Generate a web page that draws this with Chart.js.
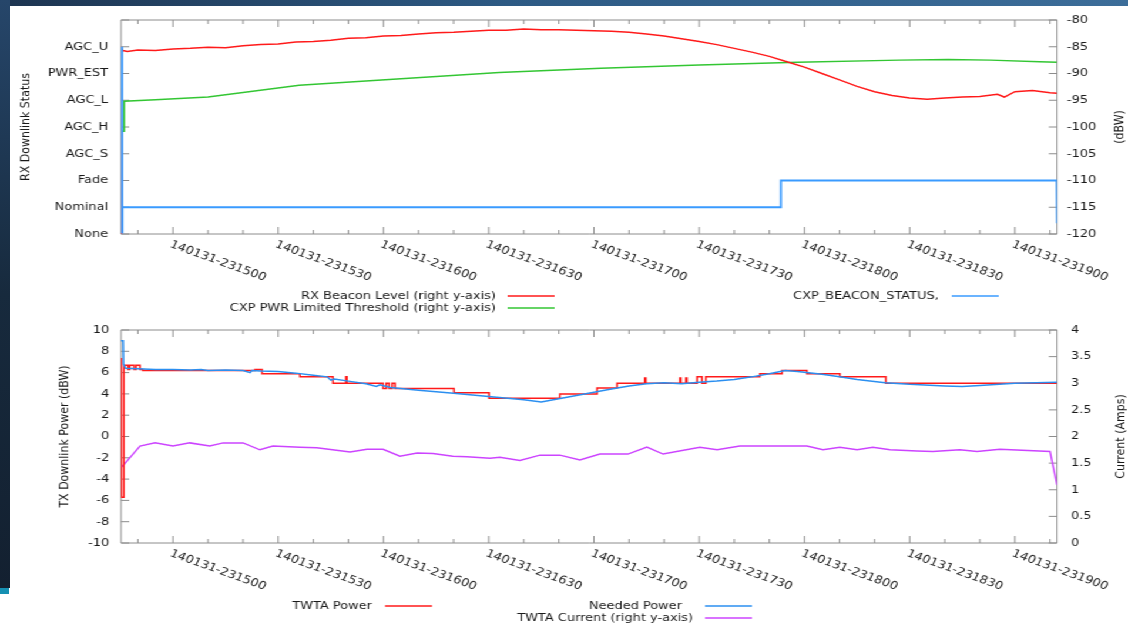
<!DOCTYPE html>
<html>
<head>
<meta charset="utf-8">
<script src="https://cdn.jsdelivr.net/npm/chart.js@4.4.1/dist/chart.umd.min.js"></script>
<style>
  html, body { margin: 0; padding: 0; background: #fff; width: 1128px; height: 627px; overflow: hidden; }
  #stage { position: absolute; left: 0; top: 0; width: 960px; height: 627px; transform: scaleX(1.175); transform-origin: 0 0; }
  #stage canvas { position: absolute; left: 0; }
  #topbar { position: absolute; left: 0; top: 0; width: 1128px; height: 6px; background: linear-gradient(90deg, #1d3450, #2d5a84 45%, #3c6d99); }
  #sidebar { position: absolute; left: 0; top: 0; width: 10px; height: 588px; background: linear-gradient(180deg, #26466a, #172a3d 50%, #132030); }
  #sidestripe { position: absolute; left: 0; top: 588px; width: 9px; height: 6px; background: #1690b2; }
</style>
</head>
<body>
<div id="stage">
  <canvas id="rx" width="960" height="320" style="top:0"></canvas>
  <canvas id="tx" width="960" height="331" style="top:296px"></canvas>
</div>
<div id="topbar"></div>
<div id="sidebar"></div>
<div id="sidestripe"></div>
<script>
// time axis: seconds after 140131-231500
const xMin = -14.8, xMax = 252;
const xTickSeconds = [0, 30, 60, 90, 120, 150, 180, 210, 240];
const xTickLabels = ['140131-231500', '140131-231530', '140131-231600', '140131-231630', '140131-231700',
                     '140131-231730', '140131-231800', '140131-231830', '140131-231900'];
const statusNames = ['None', 'Nominal', 'Fade', 'AGC_S', 'AGC_H', 'AGC_L', 'PWR_EST', 'AGC_U'];

// --- RX chart ---
const beaconTime = [-14.8, -14.7, -14.3, -13, -10, -5, 0, 5, 10, 15, 20, 25, 30, 35, 40, 45, 50, 55, 60, 65, 70, 75,
  80, 85, 90, 95, 100, 105, 110, 115, 120, 125, 130, 135, 140, 145, 150, 155, 160, 165, 170, 175, 180, 185, 190,
  195, 200, 205, 210, 215, 220, 225, 230, 235, 237, 240, 245, 250, 252];
const beaconLevel = [-121, -85.3, -85.7, -85.9, -85.6, -85.7, -85.4, -85.3, -85.1, -85.2, -84.8, -84.6, -84.5, -84.1,
  -84.0, -83.8, -83.4, -83.3, -83.0, -82.9, -82.6, -82.4, -82.3, -82.1, -81.9, -81.9, -81.7, -81.8, -81.8, -81.9,
  -82.0, -82.1, -82.3, -82.6, -83.0, -83.5, -84.0, -84.6, -85.3, -86.0, -86.8, -87.8, -88.8, -90.0, -91.2, -92.4,
  -93.4, -94.1, -94.6, -94.8, -94.6, -94.4, -94.3, -93.9, -94.4, -93.4, -93.2, -93.6, -93.7];
const thresholdTime = [-14.8, -14.0, -13.9, -5, 10, 36, 65, 93, 122, 150, 178, 207, 221, 233, 247, 252];
const thresholdLevel = [-100.8, -100.8, -95.2, -94.9, -94.4, -92.2, -91.0, -89.8, -89.0, -88.4, -87.9, -87.5, -87.4,
  -87.5, -87.8, -87.9];
const statusTime = [-14.5, -14.45, -14.4, 173.3, 173.3, 251.9, 252];
const statusValue = [7, 0.05, 1, 1, 2, 2, 0.4];

// --- TX chart ---
const twtaPowerTime = [-14.8, -14.72, -14.0, -12.8, -12.3, -11.1, -10.5, -9.4, -8.6, 23.4, 25.4, 36.2, 45.6, 49.3,
  49.6, 59.9, 60.8, 61.6, 62.5, 63.3, 80.1, 90.1, 110.3, 120.9, 126.6, 134.5, 134.8, 144.5, 144.8, 146.2, 146.5,
  149.4, 150.8, 151.9, 153.1, 167.3, 173.6, 180.7, 190.1, 203.2, 252];
const twtaPower = [7.3, -5.7, 6.7, 6.3, 6.7, 6.3, 6.7, 6.3, 6.2, 6.3, 5.9, 5.6, 5.0, 5.6, 5.0, 4.5, 5.0, 4.5, 5.0,
  4.5, 4.1, 3.6, 4.0, 4.55, 5.0, 5.5, 5.0, 5.5, 5.0, 5.5, 5.0, 5.6, 5.0, 5.6, 5.6, 5.9, 6.2, 5.9, 5.6, 5.0, 5.0];
const neededTime = [-14.8, -14.2, -14.1, -13.5, -10, -5, 0, 5, 8, 10, 15, 20, 22, 22.5, 25, 30, 35, 40, 44, 45, 46,
  50, 55, 58, 59, 62, 70, 80, 90, 100, 105, 110, 115, 120, 125, 130, 135, 140, 145, 150, 155, 160, 165, 170, 174.5,
  178, 185, 190, 195, 203, 210, 220, 225, 230, 240, 252];
const neededPower = [9.0, 9.0, 6.8, 6.4, 6.35, 6.3, 6.3, 6.25, 6.3, 6.2, 6.25, 6.2, 6.0, 6.2, 6.15, 6.1, 5.95, 5.75,
  5.6, 5.3, 5.4, 5.2, 4.95, 4.7, 4.85, 4.6, 4.35, 4.05, 3.75, 3.45, 3.25, 3.55, 3.85, 4.15, 4.45, 4.75, 4.95, 5.05,
  4.95, 5.1, 5.2, 5.35, 5.6, 5.9, 6.2, 6.1, 5.85, 5.6, 5.35, 5.05, 4.9, 4.75, 4.7, 4.8, 5.0, 5.1];
const currentTime = [-14.8, -9.4, -5.1, 0, 4.8, 10.5, 14.3, 20, 24.8, 28.5, 36.2, 41, 50.5, 55.3, 59.9, 64.7, 69.6,
  74.1, 79.8, 83.8, 90.4, 93.2, 98.9, 104.6, 110.3, 116, 121.7, 129.7, 135.1, 139.7, 150.2, 155.1, 161.6, 180.7,
  185.3, 190.1, 195, 199.5, 204.4, 212.1, 216.6, 224.3, 229.2, 235.7, 250, 252];
const twtaCurrent = [1.41, 1.82, 1.88, 1.82, 1.88, 1.82, 1.88, 1.88, 1.75, 1.82, 1.80, 1.79, 1.71, 1.76, 1.76, 1.63,
  1.69, 1.68, 1.63, 1.62, 1.59, 1.61, 1.55, 1.65, 1.65, 1.56, 1.67, 1.67, 1.8, 1.67, 1.8, 1.75, 1.82, 1.82, 1.75,
  1.8, 1.75, 1.8, 1.75, 1.73, 1.72, 1.75, 1.72, 1.76, 1.72, 1.09];

const pts = (ts, vs) => ts.map((t, i) => ({ x: t, y: vs[i] }));

Chart.defaults.font.family = '"DejaVu Sans", sans-serif';
Chart.defaults.font.size = 11;
Chart.defaults.color = '#1a1a1a';

// gnuplot-like frame: inward ticks, slanted time labels, rotated titles, key below the plot
function gnuplotFrame(cfg) {
  return {
    id: 'gnuplotFrame',
    beforeDatasetsDraw(chart) {
      const { ctx, chartArea: a, scales } = chart;
      const x = scales.x;
      ctx.save();
      ctx.strokeStyle = '#8c8c8c';
      ctx.lineWidth = 1;
      ctx.beginPath();
      for (let t = -10; t <= 250; t += 10) {
        const px = x.getPixelForValue(t);
        const len = t % 30 === 0 ? 7 : 4;
        ctx.moveTo(px, a.bottom); ctx.lineTo(px, a.bottom - len);
        ctx.moveTo(px, a.top); ctx.lineTo(px, a.top + len);
      }
      scales.y.ticks.forEach(tk => {
        const py = scales.y.getPixelForValue(tk.value);
        ctx.moveTo(a.left, py); ctx.lineTo(a.left + 7, py);
      });
      scales.y2.ticks.forEach(tk => {
        const py = scales.y2.getPixelForValue(tk.value);
        ctx.moveTo(a.right, py); ctx.lineTo(a.right - 7, py);
      });
      ctx.rect(a.left, a.top, a.right - a.left, a.bottom - a.top);
      ctx.stroke();
      ctx.restore();
    },
    afterDraw(chart) {
      const { ctx, chartArea: a, scales } = chart;
      const x = scales.x;
      ctx.save();
      ctx.fillStyle = '#1a1a1a';
      ctx.font = '11px "DejaVu Sans"';
      ctx.textAlign = 'left';
      ctx.textBaseline = 'top';
      xTickSeconds.forEach((t, i) => {
        ctx.save();
        ctx.translate(x.getPixelForValue(t), a.bottom + 5);
        ctx.rotate(23 * Math.PI / 180);
        ctx.fillText(xTickLabels[i], 0, 0);
        ctx.restore();
      });

      const midY = (a.top + a.bottom) / 2;
      [[cfg.leftTitle, cfg.leftTitleX], [cfg.rightTitle, cfg.rightTitleX]].forEach(([s, tx]) => {
        ctx.save();
        ctx.translate(tx, midY);
        ctx.rotate(-Math.PI / 2);
        ctx.textAlign = 'center';
        ctx.textBaseline = 'middle';
        ctx.fillText(s, 0, 0);
        ctx.restore();
      });

      chart.data.datasets.forEach((ds, i) => {
        const k = cfg.keys[i];
        ctx.textAlign = 'right';
        ctx.textBaseline = 'middle';
        ctx.fillStyle = '#1a1a1a';
        ctx.fillText(ds.label, k.x, k.y);
        ctx.strokeStyle = ds.borderColor;
        ctx.lineWidth = 1.5;
        ctx.beginPath();
        ctx.moveTo(k.x1, k.y); ctx.lineTo(k.x2, k.y);
        ctx.stroke();
      });
      ctx.restore();
    }
  };
}

const lineStyle = { pointRadius: 0, borderWidth: 1.5, tension: 0, fill: false };

new Chart(document.getElementById('rx'), {
  type: 'line',
  data: {
    datasets: [
      { ...lineStyle, label: 'RX Beacon Level (right y-axis)', data: pts(beaconTime, beaconLevel), yAxisID: 'y2', borderColor: '#ff1a1a', order: 1 },
      { ...lineStyle, label: 'CXP PWR Limited Threshold (right y-axis)', data: pts(thresholdTime, thresholdLevel), yAxisID: 'y2', borderColor: '#33c633', order: 2 },
      { ...lineStyle, label: 'CXP_BEACON_STATUS,', data: pts(statusTime, statusValue), yAxisID: 'y', borderColor: '#3a9bff', borderWidth: 1.8, order: 0 }
    ]
  },
  options: {
    responsive: false,
    animation: false,
    layout: { padding: { top: 20, bottom: 86, left: 0, right: 0 } },
    plugins: { legend: { display: false }, tooltip: { enabled: false } },
    scales: {
      x: { type: 'linear', min: xMin, max: xMax, display: false },
      y: {
        position: 'left', min: 0, max: 8,
        grid: { display: false, drawTicks: false }, border: { display: false },
        ticks: { stepSize: 1, padding: 11, callback: v => statusNames[v] ?? '' },
        afterFit: s => { s.width = 103; }
      },
      y2: {
        position: 'right', min: -120, max: -80,
        grid: { display: false, drawTicks: false }, border: { display: false },
        ticks: { stepSize: 5, padding: 8.5, callback: v => String(v) },
        afterFit: s => { s.width = 60.4; }
      }
    }
  },
  plugins: [gnuplotFrame({
    leftTitle: 'RX Downlink Status', leftTitleX: 22,
    rightTitle: '(dBW)', rightTitleX: 953,
    keys: [
      { x: 422, y: 296, x1: 432, x2: 472 },
      { x: 422, y: 308, x1: 432, x2: 472 },
      { x: 799, y: 296, x1: 810, x2: 850 }
    ]
  })]
});

new Chart(document.getElementById('tx'), {
  type: 'line',
  data: {
    datasets: [
      { ...lineStyle, label: 'TWTA Power', data: pts(twtaPowerTime, twtaPower), yAxisID: 'y', borderColor: '#ff1a1a', stepped: 'before', order: 1 },
      { ...lineStyle, label: 'Needed Power', data: pts(neededTime, neededPower), yAxisID: 'y', borderColor: '#2b8ff0', order: 0 },
      { ...lineStyle, label: 'TWTA Current (right y-axis)', data: pts(currentTime, twtaCurrent), yAxisID: 'y2', borderColor: '#cc44ff', order: 2 }
    ]
  },
  options: {
    responsive: false,
    animation: false,
    layout: { padding: { top: 34, bottom: 84, left: 0, right: 0 } },
    plugins: { legend: { display: false }, tooltip: { enabled: false } },
    scales: {
      x: { type: 'linear', min: xMin, max: xMax, display: false },
      y: {
        position: 'left', min: -10, max: 10,
        grid: { display: false, drawTicks: false }, border: { display: false },
        ticks: { stepSize: 2, padding: 10, callback: v => String(v) },
        afterFit: s => { s.width = 103; }
      },
      y2: {
        position: 'right', min: 0, max: 4,
        grid: { display: false, drawTicks: false }, border: { display: false },
        ticks: { stepSize: 0.5, padding: 12, callback: v => String(v) },
        afterFit: s => { s.width = 60.4; }
      }
    }
  },
  plugins: [gnuplotFrame({
    leftTitle: 'TX Downlink Power (dBW)', leftTitleX: 55,
    rightTitle: 'Current (Amps)', rightTitleX: 954,
    keys: [
      { x: 316.6, y: 310, x1: 327.7, x2: 367.7 },
      { x: 580.4, y: 310, x1: 600, x2: 640 },
      { x: 589.8, y: 322, x1: 600, x2: 640 }
    ]
  })]
});
</script>
</body>
</html>
